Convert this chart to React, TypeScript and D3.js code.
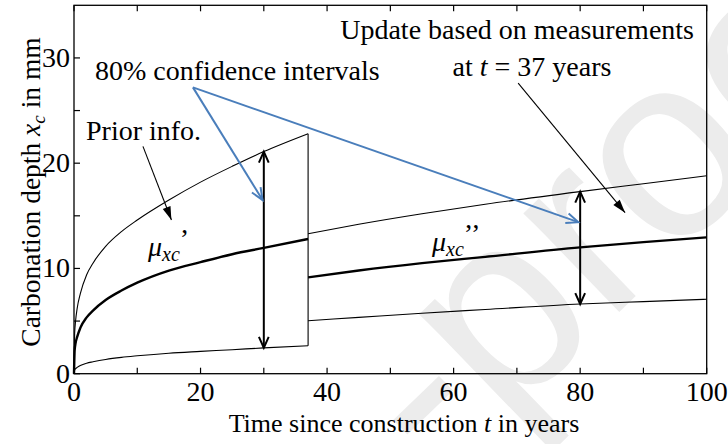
import React from "react";
import * as d3 from "d3";

// ---- data ----
const T_PRIOR = [0, 0.1, 0.25, 0.5, 1, 2, 3, 5, 7.5, 10, 15, 20, 25, 30, 37];
const PRIOR_MEAN = [0, 2.2, 2.9, 3.5, 4.35, 5.35, 6.0, 7.0, 7.9, 8.65, 9.8, 10.6, 11.35, 11.95, 12.8];
const PRIOR_UPPER = [0, 3.8, 5.0, 6.2, 7.6, 9.4, 10.5, 12.1, 13.5, 14.6, 16.5, 18.2, 19.7, 21.1, 22.8];
const PRIOR_LOWER = [0, 0.35, 0.48, 0.6, 0.78, 1.0, 1.13, 1.35, 1.55, 1.7, 1.95, 2.12, 2.28, 2.45, 2.65];

const T_POST = [37, 45, 55, 65, 80, 90, 100];
const POST_MEAN = [9.15, 9.8, 10.5, 11.1, 12.0, 12.5, 12.95];
const POST_UPPER = [13.3, 14.2, 15.2, 16.1, 17.3, 18.05, 18.8];
const POST_LOWER = [5.03, 5.35, 5.75, 6.1, 6.62, 6.85, 7.07];

const X_TICKS = [0, 20, 40, 60, 80, 100];
const X_MINOR = [10, 30, 50, 70, 90];
const Y_TICKS = [0, 10, 20, 30];
const Y_MINOR = [5, 15, 25];

// confidence interval arrows [t, low, high]
const CI_ARROWS = [
  [30, 2.45, 21.1],
  [80, 6.62, 17.3],
];
// blue pointer: origin and targets
const BLUE_FROM = [18.8, 27.2];
const BLUE_TO = [
  [29.8, 16.5],
  [79.7, 14.4],
];
// black label pointers [fromT, fromY, toT, toY]
const PTR = [
  [10.9, 21.6, 15.4, 14.6],
  [70.2, 27.6, 87.1, 15.3],
];

const W = 728;
const H = 444;
const L = 74, R = 706.7, TOP = 5.3, BOT = 373.7;
const FONT = "'Liberation Serif', 'Times New Roman', serif";
const FS = 28;
const BLUE = "#4a7ebb";

export default function App() {
  const x = d3.scaleLinear().domain([0, 100]).range([L, R]);
  const y = d3.scaleLinear().domain([0, 35]).range([BOT, TOP]);

  const line = (ts: number[], vs: number[]) =>
    d3
      .line<number>()
      .x((_, i) => x(ts[i]))
      .y((v) => y(v))
      .curve(d3.curveMonotoneX)(vs) || "";

  const vHead = (tx: number, ty: number, fx: number, fy: number, len: number, ang: number) => {
    const a = Math.atan2(fy - ty, fx - tx);
    const p1 = [tx + len * Math.cos(a + ang), ty + len * Math.sin(a + ang)];
    const p2 = [tx + len * Math.cos(a - ang), ty + len * Math.sin(a - ang)];
    return `M${p1[0]},${p1[1]}L${tx},${ty}L${p2[0]},${p2[1]}`;
  };
  const triHead = (tx: number, ty: number, fx: number, fy: number, len: number, ang: number) => {
    const a = Math.atan2(fy - ty, fx - tx);
    const p1 = [tx + len * Math.cos(a + ang), ty + len * Math.sin(a + ang)];
    const p2 = [tx + len * Math.cos(a - ang), ty + len * Math.sin(a - ang)];
    return `M${p1[0]},${p1[1]}L${tx},${ty}L${p2[0]},${p2[1]}Z`;
  };

  const bx = x(BLUE_FROM[0]);
  const by = y(BLUE_FROM[1]);

  return (
    <svg width={W} height={H} style={{ position: "absolute", left: 0, top: 0, background: "#fff" }} fontFamily={FONT}>
      <rect x={0} y={0} width={W} height={H} fill="#fff" />
      {/* watermark */}
      <text
        x={0}
        y={0}
        transform="translate(440,485) rotate(-44)"
        fontFamily="'Liberation Sans', Arial, sans-serif"
        fontSize={260}
        fill="#ececec"
      >
        -proof
      </text>

      {/* prior curves */}
      <path d={line(T_PRIOR, PRIOR_UPPER)} fill="none" stroke="#000" strokeWidth={1.1} />
      <path d={line(T_PRIOR, PRIOR_LOWER)} fill="none" stroke="#000" strokeWidth={1.1} />
      <path d={line(T_PRIOR, PRIOR_MEAN)} fill="none" stroke="#000" strokeWidth={2.4} />
      <line
        x1={x(T_PRIOR[T_PRIOR.length - 1])}
        x2={x(T_PRIOR[T_PRIOR.length - 1])}
        y1={y(PRIOR_LOWER[PRIOR_LOWER.length - 1])}
        y2={y(PRIOR_UPPER[PRIOR_UPPER.length - 1])}
        stroke="#000"
        strokeWidth={1.1}
      />
      {/* posterior curves */}
      <path d={line(T_POST, POST_UPPER)} fill="none" stroke="#000" strokeWidth={1.1} />
      <path d={line(T_POST, POST_LOWER)} fill="none" stroke="#000" strokeWidth={1.1} />
      <path d={line(T_POST, POST_MEAN)} fill="none" stroke="#000" strokeWidth={2.4} />

      {/* CI arrows */}
      {CI_ARROWS.map(([t, lo, hi], i) => {
        const cx = x(t);
        const y1 = y(lo);
        const y2 = y(hi);
        return (
          <g key={i} stroke="#000" strokeWidth={2} fill="none">
            <line x1={cx} x2={cx} y1={y1} y2={y2} />
            <path d={vHead(cx, y2, cx, y1, 12, 0.42)} />
            <path d={vHead(cx, y1, cx, y2, 12, 0.42)} />
          </g>
        );
      })}

      {/* blue pointers */}
      {BLUE_TO.map(([t, v], i) => {
        const tx = x(t);
        const ty = y(v);
        return (
          <g key={i} stroke={BLUE} strokeWidth={2} fill="none">
            <line x1={bx} y1={by} x2={tx} y2={ty} />
            <path d={vHead(tx, ty, bx, by, 13, 0.4)} />
          </g>
        );
      })}

      {/* black pointers */}
      {PTR.map(([ft, fv, tt, tv], i) => {
        const fx = x(ft), fy = y(fv), tx = x(tt), ty = y(tv);
        return (
          <g key={i}>
            <line x1={fx} y1={fy} x2={tx} y2={ty} stroke="#000" strokeWidth={1.1} />
            <path d={triHead(tx, ty, fx, fy, 14, 0.3)} fill="#000" />
          </g>
        );
      })}

      {/* frame */}
      <rect x={L} y={TOP} width={R - L} height={BOT - TOP} fill="none" stroke="#000" strokeWidth={1.3} />
      {/* x ticks bottom and top */}
      {[...X_TICKS, ...X_MINOR].map((t) => (
        <g key={"xt" + t} stroke="#000" strokeWidth={1.2}>
          <line x1={x(t)} x2={x(t)} y1={BOT} y2={BOT - 6} />
          <line x1={x(t)} x2={x(t)} y1={TOP} y2={TOP + 6} />
        </g>
      ))}
      {[...Y_TICKS, ...Y_MINOR].map((v) => (
        <line key={"yt" + v} x1={L} x2={L + 6} y1={y(v)} y2={y(v)} stroke="#000" strokeWidth={1.2} />
      ))}
      {X_TICKS.map((t) => (
        <text key={"xl" + t} x={x(t)} y={BOT + 27} fontSize={FS} textAnchor="middle">
          {t}
        </text>
      ))}
      {Y_TICKS.map((v) => (
        <text key={"yl" + v} x={L - 4} y={y(v) + 9} fontSize={FS} textAnchor="end">
          {v}
        </text>
      ))}

      {/* axis titles */}
      <text x={404} y={432} fontSize={26} textAnchor="middle">
        Time since construction <tspan fontStyle="italic">t</tspan> in years
      </text>
      <text transform="translate(40,192) rotate(-90)" fontSize={27.5} textAnchor="middle">
        Carbonation depth <tspan fontStyle="italic">x</tspan>
        <tspan fontStyle="italic" fontSize={19} dy={5}>c</tspan>
        <tspan dy={-5}> in mm</tspan>
      </text>

      {/* annotations */}
      <text x={694} y={39} fontSize={FS} textAnchor="end">
        Update based on measurements
      </text>
      <text x={532} y={76} fontSize={FS} textAnchor="middle">
        at <tspan fontStyle="italic">t</tspan> = 37 years
      </text>
      <text x={95} y={80} fontSize={FS}>
        80% confidence intervals
      </text>
      <text x={86} y={140} fontSize={FS}>
        Prior info.
      </text>
      <text x={148} y={256} fontSize={FS} fontStyle="italic">
        μ<tspan fontSize={20} dy={5}>xc</tspan>
        <tspan fontStyle="normal" dy={-13}>’</tspan>
      </text>
      <text x={432} y={251} fontSize={FS} fontStyle="italic">
        μ<tspan fontSize={20} dy={5}>xc</tspan>
        <tspan fontStyle="normal" dy={-13}>’’</tspan>
      </text>
    </svg>
  );
}
